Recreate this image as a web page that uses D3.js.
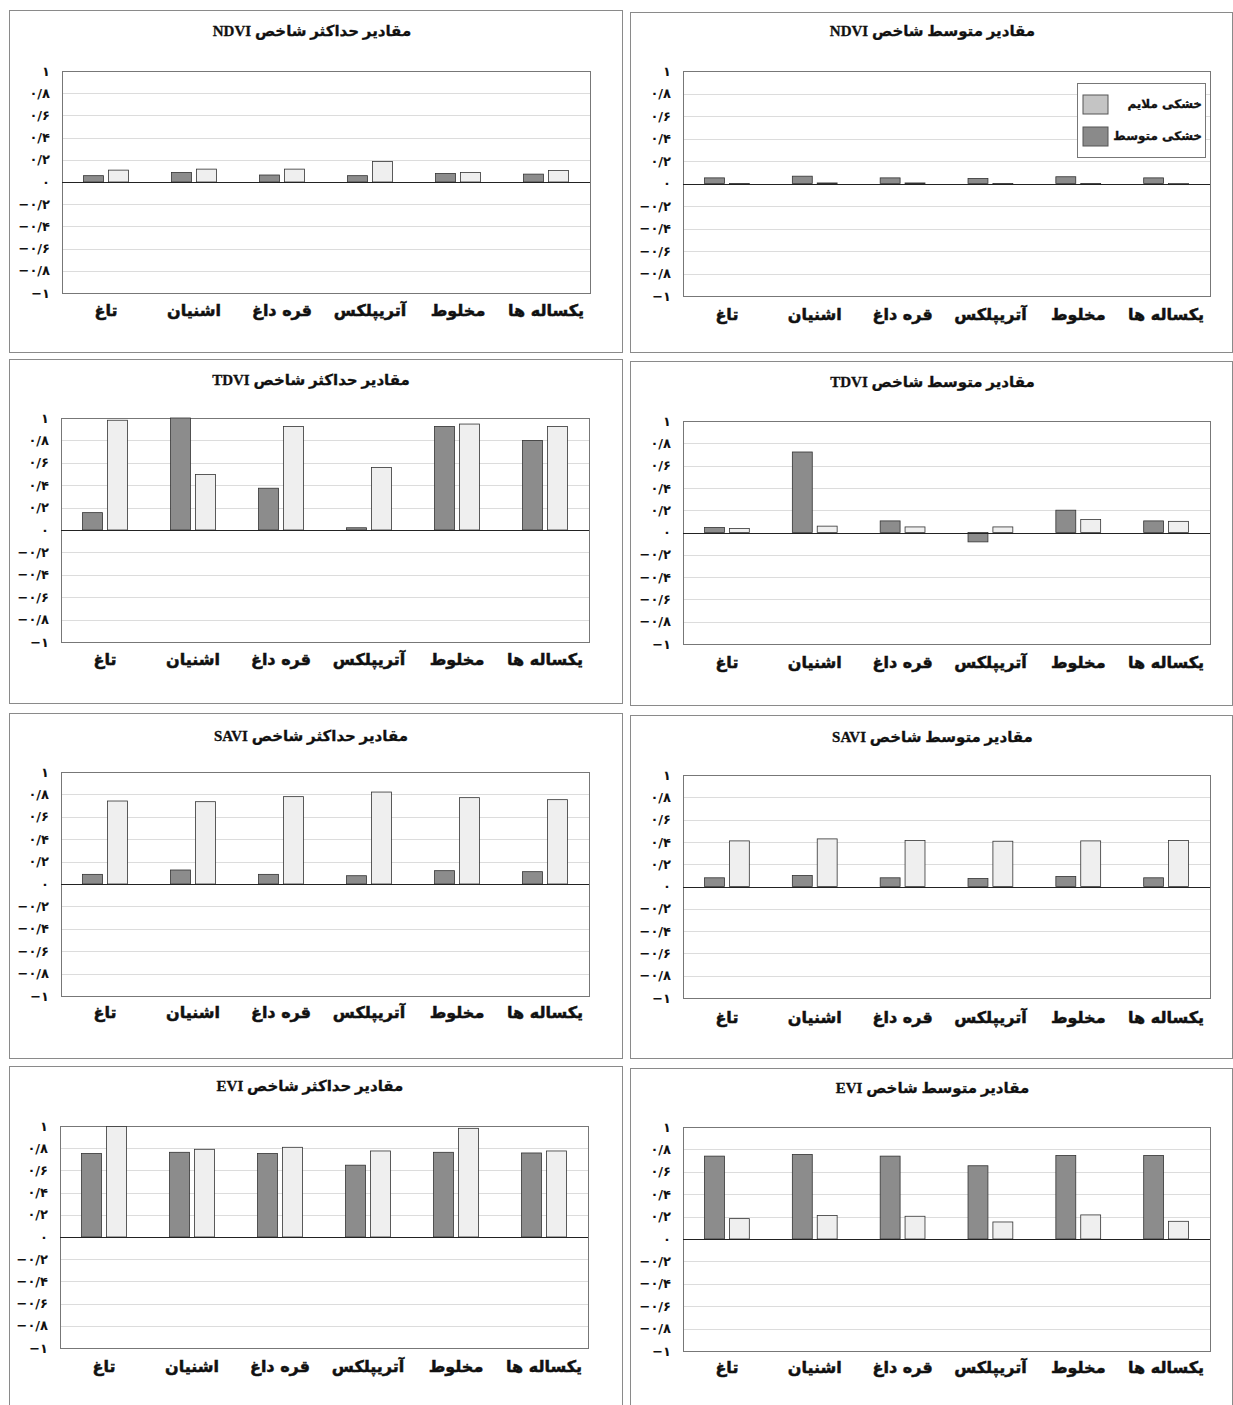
<!DOCTYPE html>
<html>
<head>
<meta charset="utf-8">
<script src="https://cdn.jsdelivr.net/npm/d3@7"></script>
<style>
  body { margin: 0; background: #fff; }
  svg { display: block; }
  .title { font-family: "Liberation Serif", "DejaVu Sans", serif; font-weight: bold; font-size: 15px; fill: #111; stroke: #111; stroke-width: 0.3; }
  .ytick { font-family: "DejaVu Sans", sans-serif; font-weight: bold; font-size: 13px; fill: #111; }
  .cat { font-family: "DejaVu Sans", sans-serif; font-weight: bold; font-size: 16px; fill: #111; stroke: #111; stroke-width: 0.5; }
  .leg { font-family: "DejaVu Sans", sans-serif; font-weight: bold; font-size: 12px; fill: #111; stroke: #111; stroke-width: 0.3; }
</style>
</head>
<body>
<div id="chart"></div>
<script>
// categories (left to right) and the two series
var categories = ["تاغ", "اشنیان", "قره داغ", "آتریپلکس", "مخلوط", "یکساله ها"];
var seriesNames = ["خشکی متوسط", "خشکی ملایم"];

// y axis ticks and their Persian labels
var yTicks = [1, 0.8, 0.6, 0.4, 0.2, 0, -0.2, -0.4, -0.6, -0.8, -1];
var yTickLabels = ["۱", "۰/۸", "۰/۶", "۰/۴", "۰/۲", "۰", "−۰/۲", "−۰/۴", "−۰/۶", "−۰/۸", "−۱"];

// values: moderate (dark) and mild (light)
var ndviMaxModerate = [0.057, 0.086, 0.063, 0.057, 0.077, 0.071];
var ndviMaxMild     = [0.107, 0.116, 0.116, 0.185, 0.086, 0.104];
var ndviMeanModerate = [0.05, 0.065, 0.05, 0.045, 0.06, 0.05];
var ndviMeanMild     = [-0.005, 0.005, 0.005, -0.003, -0.003, -0.01];
var tdviMaxModerate = [0.155, 1.0, 0.373, 0.02, 0.925, 0.8];
var tdviMaxMild     = [0.98, 0.495, 0.925, 0.558, 0.946, 0.925];
var tdviMeanModerate = [0.045, 0.722, 0.104, -0.084, 0.2, 0.104];
var tdviMeanMild     = [0.036, 0.057, 0.05, 0.05, 0.116, 0.1];
var saviMaxModerate = [0.086, 0.125, 0.086, 0.074, 0.119, 0.11];
var saviMaxMild     = [0.741, 0.735, 0.78, 0.821, 0.771, 0.753];
var saviMeanModerate = [0.078, 0.099, 0.078, 0.072, 0.09, 0.078];
var saviMeanMild     = [0.409, 0.427, 0.412, 0.406, 0.409, 0.412];
var eviMaxModerate = [0.752, 0.763, 0.752, 0.647, 0.763, 0.757];
var eviMaxMild     = [0.995, 0.79, 0.808, 0.775, 0.979, 0.775];
var eviMeanModerate = [0.74, 0.755, 0.74, 0.654, 0.746, 0.746];
var eviMeanMild     = [0.182, 0.209, 0.203, 0.152, 0.215, 0.158];

var titles = [
  "مقادیر حداکثر شاخص NDVI", "مقادیر متوسط شاخص NDVI",
  "مقادیر حداکثر شاخص TDVI", "مقادیر متوسط شاخص TDVI",
  "مقادیر حداکثر شاخص SAVI", "مقادیر متوسط شاخص SAVI",
  "مقادیر حداکثر شاخص EVI", "مقادیر متوسط شاخص EVI"
];

var colors = ["#8c8c8c", "#efefef"];

// panel layout: frame box, plot area, title and label rows
var panels = [
  { title: titles[0], vals: [ndviMaxModerate, ndviMaxMild], box: [9, 10, 613, 342], plot: [62, 71, 528, 222], titleY: 33, labelY: 311 },
  { title: titles[1], vals: [ndviMeanModerate, ndviMeanMild], box: [630, 12, 602, 340], plot: [683, 71, 527, 225], titleY: 33, labelY: 315, legend: true },
  { title: titles[2], vals: [tdviMaxModerate, tdviMaxMild], box: [9, 359, 613, 344], plot: [61, 418, 528, 224], titleY: 382, labelY: 660 },
  { title: titles[3], vals: [tdviMeanModerate, tdviMeanMild], box: [630, 361, 602, 344], plot: [683, 421, 527, 223], titleY: 384, labelY: 663 },
  { title: titles[4], vals: [saviMaxModerate, saviMaxMild], box: [9, 713, 613, 345], plot: [61, 772, 528, 224], titleY: 738, labelY: 1013 },
  { title: titles[5], vals: [saviMeanModerate, saviMeanMild], box: [630, 715, 602, 343], plot: [683, 775, 527, 223], titleY: 739, labelY: 1018 },
  { title: titles[6], vals: [eviMaxModerate, eviMaxMild], box: [9, 1066, 613, 360], plot: [60, 1126, 528, 222], titleY: 1088, labelY: 1367 },
  { title: titles[7], vals: [eviMeanModerate, eviMeanMild], box: [630, 1068, 602, 360], plot: [683, 1127, 527, 224], titleY: 1090, labelY: 1368 }
];

var svg = d3.select("#chart").append("svg")
  .attr("width", 1233)
  .attr("height", 1405);

svg.append("rect").attr("width", 1233).attr("height", 1405).attr("fill", "#fff");

panels.forEach(function(p) {
  var g = svg.append("g");
  var px = p.plot[0], py = p.plot[1], pw = p.plot[2], ph = p.plot[3];

  // outer frame
  g.append("rect")
    .attr("x", p.box[0] + 0.5).attr("y", p.box[1] + 0.5)
    .attr("width", p.box[2]).attr("height", p.box[3])
    .attr("fill", "none").attr("stroke", "#8a8a8a");

  var x = d3.scaleBand()
    .domain(categories)
    .range([px, px + pw])
    .paddingInner(0.49)
    .paddingOuter(0.245);

  var xs = d3.scaleBand()
    .domain([0, 1])
    .range([0, x.bandwidth()])
    .paddingInner(0.2);

  var y = d3.scaleLinear().domain([-1, 1]).range([py + ph, py]);

  // gridlines
  g.append("g").selectAll("line")
    .data(yTicks.filter(function(t) { return t !== 0 && Math.abs(t) !== 1; }))
    .enter().append("line")
    .attr("x1", px).attr("x2", px + pw)
    .attr("y1", function(d) { return Math.round(y(d)) + 0.5; })
    .attr("y2", function(d) { return Math.round(y(d)) + 0.5; })
    .attr("stroke", "#dcdcdc");

  // plot frame
  g.append("rect")
    .attr("x", px + 0.5).attr("y", py + 0.5)
    .attr("width", pw).attr("height", ph)
    .attr("fill", "none").attr("stroke", "#777");

  // y axis labels
  var yAxis = d3.axisLeft(y)
    .tickValues(yTicks)
    .tickSize(0)
    .tickPadding(12)
    .tickFormat(function(d, i) { return yTickLabels[i]; });
  var ya = g.append("g").attr("transform", "translate(" + px + ",0)").call(yAxis);
  ya.select(".domain").remove();
  ya.selectAll("text").attr("class", "ytick").attr("direction", "ltr");

  // bars
  p.vals.forEach(function(vals, s) {
    g.append("g").selectAll("rect")
      .data(vals)
      .enter().append("rect")
      .attr("x", function(d, i) { return x(categories[i]) + xs(s); })
      .attr("y", function(d) { return y(Math.max(0, d)); })
      .attr("width", xs.bandwidth())
      .attr("height", function(d) { return Math.max(0.8, Math.abs(y(d) - y(0))); })
      .attr("fill", colors[s])
      .attr("stroke", "#333")
      .attr("stroke-width", 0.8);
  });

  // zero line
  g.append("line")
    .attr("x1", px).attr("x2", px + pw)
    .attr("y1", Math.round(y(0)) + 0.5).attr("y2", Math.round(y(0)) + 0.5)
    .attr("stroke", "#222").attr("stroke-width", 1.2);

  // category labels
  g.append("g").selectAll("text")
    .data(categories)
    .enter().append("text")
    .attr("class", "cat")
    .attr("x", function(d) { return x(d) + x.bandwidth() / 2; })
    .attr("y", p.labelY)
    .attr("text-anchor", "middle")
    .attr("dominant-baseline", "middle")
    .attr("direction", "rtl")
    .text(function(d) { return d; });

  // title
  g.append("text")
    .attr("class", "title")
    .attr("x", px + pw / 2 - 14)
    .attr("y", p.titleY)
    .attr("text-anchor", "middle")
    .attr("dominant-baseline", "middle")
    .attr("direction", "rtl")
    .text(p.title);

  if (p.legend) {
    var lg = g.append("g");
    lg.append("rect")
      .attr("x", 1077.5).attr("y", 83.5).attr("width", 128).attr("height", 74)
      .attr("fill", "#fff").attr("stroke", "#777");
    // light swatch first (mild), then dark (moderate)
    var legendOrder = [1, 0];
    var legendColors = ["#8a8a8a", "#c4c4c4"];
    legendOrder.forEach(function(s, k) {
      lg.append("rect")
        .attr("x", 1083).attr("y", 95 + k * 32).attr("width", 25).attr("height", 19)
        .attr("fill", legendColors[s]).attr("stroke", "#555");
      lg.append("text")
        .attr("class", "leg")
        .attr("x", 1202).attr("y", 104 + k * 32)
        .attr("text-anchor", "start")
        .attr("direction", "rtl")
        .attr("dominant-baseline", "middle")
        .text(seriesNames[s]);
    });
  }
});
</script>
</body>
</html>
